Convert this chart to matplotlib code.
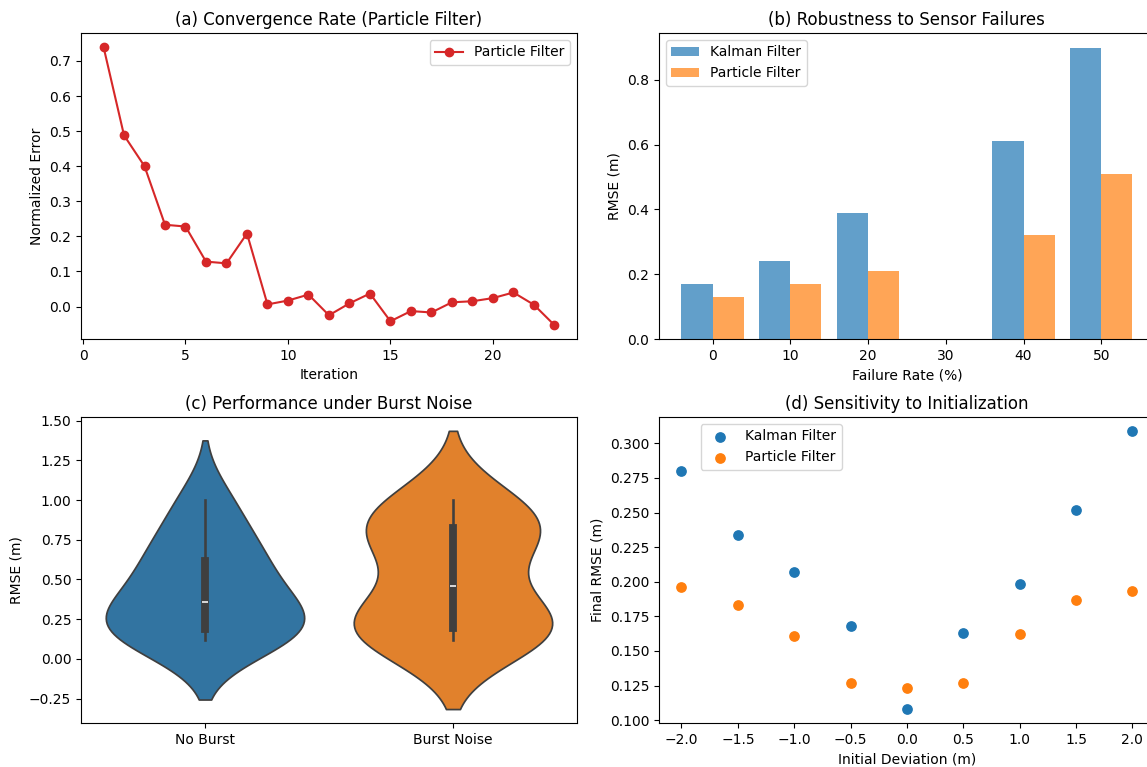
import numpy as np
import pandas as pd
import matplotlib
matplotlib.use("Agg")
import matplotlib.pyplot as plt
import seaborn as sns

# (a) convergence of the particle filter
iterations = list(range(1, 24))
pf_error = [0.740, 0.488, 0.400, 0.233, 0.228, 0.128, 0.123, 0.208, 0.006,
            0.017, 0.034, -0.025, 0.009, 0.037, -0.042, -0.013, -0.017,
            0.012, 0.015, 0.024, 0.040, 0.005, -0.053]

# (b) RMSE vs sensor failure rate
failure_rates = [0, 10, 20, 40, 50]
kf_fail_rmse = [0.17, 0.24, 0.39, 0.61, 0.90]
pf_fail_rmse = [0.13, 0.17, 0.21, 0.32, 0.51]

# (c) RMSE samples with / without burst noise
no_burst_rmse = [0.12, 0.15, 0.18, 0.22, 0.30, 0.42, 0.52, 0.65, 0.77, 1.00]
burst_rmse = [0.12, 0.17, 0.18, 0.23, 0.30, 0.62, 0.78, 0.84, 0.88, 1.00]
noise_labels = ["No Burst", "Burst Noise"]

# (d) final RMSE vs initial deviation
init_dev = [-2.0, -1.5, -1.0, -0.5, 0.0, 0.5, 1.0, 1.5, 2.0]
kf_init_rmse = [0.280, 0.234, 0.207, 0.168, 0.108, 0.163, 0.198, 0.252, 0.309]
pf_init_rmse = [0.196, 0.183, 0.161, 0.127, 0.123, 0.127, 0.162, 0.187, 0.193]

fig = plt.figure(figsize=(11.47, 7.67), dpi=100)
ax1 = fig.add_axes([0.0706, 0.558, 0.4324, 0.399])
ax2 = fig.add_axes([0.5745, 0.558, 0.4324, 0.399])
ax3 = fig.add_axes([0.0706, 0.0574, 0.4324, 0.399])
ax4 = fig.add_axes([0.5745, 0.0574, 0.4324, 0.399])

# convergence curve
ax1.plot(iterations, pf_error, marker='o', color='tab:red', label='Particle Filter')
ax1.set_xlabel("Iteration")
ax1.set_ylabel("Normalized Error")
ax1.set_title("(a) Convergence Rate (Particle Filter)")
ax1.legend(loc='upper right')

# grouped bars
x = np.array(failure_rates)
ax2.bar(x - 2, kf_fail_rmse, width=4, color='tab:blue', alpha=0.7, label='Kalman Filter')
ax2.bar(x + 2, pf_fail_rmse, width=4, color='tab:orange', alpha=0.7, label='Particle Filter')
ax2.set_xlabel("Failure Rate (%)")
ax2.set_ylabel("RMSE (m)")
ax2.set_title("(b) Robustness to Sensor Failures")
ax2.legend(loc='upper left')

# violins
df = pd.DataFrame({
    'cond': [noise_labels[0]] * len(no_burst_rmse) + [noise_labels[1]] * len(burst_rmse),
    'rmse': no_burst_rmse + burst_rmse,
})
sns.violinplot(data=df, x='cond', y='rmse', hue='cond', density_norm='width',
               legend=False, ax=ax3)
ax3.set_xlabel("")
ax3.set_ylabel("RMSE (m)")
ax3.set_title("(c) Performance under Burst Noise")

# initialization sensitivity
ax4.scatter(init_dev, kf_init_rmse, s=45, color='tab:blue', label='Kalman Filter')
ax4.scatter(init_dev, pf_init_rmse, s=45, color='tab:orange', label='Particle Filter')
ax4.set_xlabel("Initial Deviation (m)")
ax4.set_ylabel("Final RMSE (m)")
ax4.set_title("(d) Sensitivity to Initialization")
ax4.legend(loc='upper left', bbox_to_anchor=(0.07, 1.0))

fig.savefig("out.png", dpi=100)
